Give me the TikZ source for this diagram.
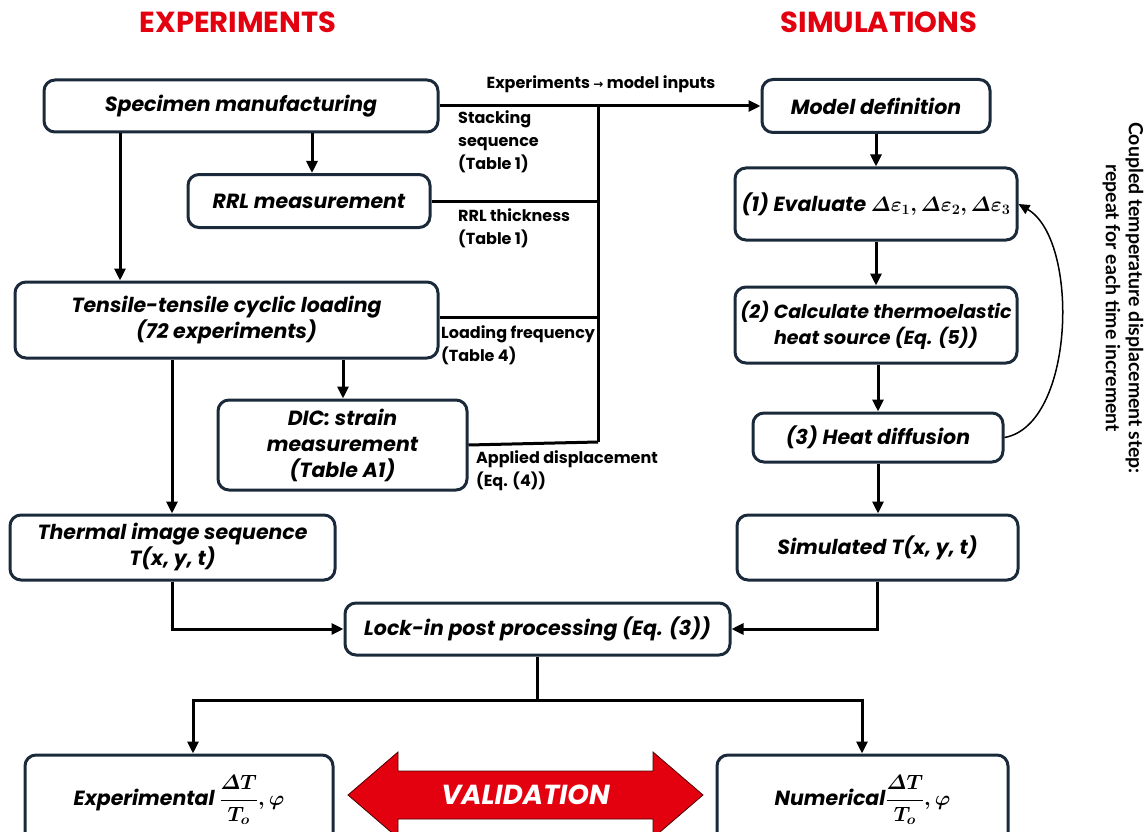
\documentclass[tikz,border=0pt]{standalone}
\usepackage{fontspec}
\usepackage{amsmath,bm}
\setmainfont{Poppins}
\newfontfamily\djv{DejaVu Sans}
\newfontfamily\lato{Lato}
\usetikzlibrary{arrows.meta}
\definecolor{boxc}{HTML}{1B2A3A}
\definecolor{redt}{HTML}{E3000F}
\tikzset{
  box/.style={draw=boxc, line width=3pt, rounded corners=11pt, fill=white, align=center,
    font=\fontsize{20.5}{26}\selectfont\bfseries\itshape\boldmath, inner sep=0pt},
  conn/.style={draw=black, line width=3pt},
  arr/.style={conn, -{Triangle[length=12pt,width=11pt]}},
  lbl/.style={font=\fontsize{16}{23}\selectfont\bfseries, align=left, inner sep=0pt, anchor=north west},
  title/.style={font=\fontsize{29}{34}\selectfont\bfseries, text=redt}
}
\begin{document}
\begin{tikzpicture}[x=1pt,y=-1pt]
\useasboundingbox (0,0) rectangle (1146,832);
% titles
\node[title] (te) at (238,22) {EXPERIMENTS};
\node[title] (ts) at (879,22) {SIMULATIONS};
% left column
\node[box, minimum width=394pt, minimum height=52pt] (sm) at (241,106) {Specimen manufacturing};
\node[box, minimum width=242pt, minimum height=53pt] (rrl) at (309,201) {RRL measurement};
\node[box, minimum width=423pt, minimum height=76pt] (tt) at (226.5,320) {Tensile-tensile cyclic loading\\(72 experiments)};
\node[box, minimum width=249pt, minimum height=90pt] (dic) at (342.5,445) {DIC: strain\\measurement\\(Table A1)};
\node[box, minimum width=325pt, minimum height=65pt] (th) at (172.5,547.5) {Thermal image sequence\\T(x, y, t)};
\node[box, minimum width=385pt, minimum height=52pt] (li) at (537.5,629) {Lock-in post processing (Eq. (3))};
\node[box, minimum width=308pt, minimum height=90pt] (ex) at (179,800) {Experimental $\dfrac{\varDelta T}{T_o}, \varphi$};
% right column
\node[box, minimum width=228pt, minimum height=53pt] (md) at (876,106) {Model definition};
\node[box, minimum width=282pt, minimum height=72pt] (ev) at (876,204) {(1) Evaluate $\varDelta\varepsilon_1, \varDelta\varepsilon_2, \varDelta\varepsilon_3$};
\node[box, minimum width=282pt, minimum height=76pt, font=\fontsize{19}{26}\selectfont\bfseries\itshape] (cs) at (876,325) {(2) Calculate thermoelastic\\heat source (Eq. (5))};
\node[box, minimum width=250pt, minimum height=49pt] (hd) at (878,437.5) {(3) Heat diffusion};
\node[box, minimum width=281pt, minimum height=65pt] (si) at (877.5,547.5) {Simulated T(x, y, t)};
\node[box, minimum width=291pt, minimum height=90pt] (nu) at (862.5,800) {Numerical$\dfrac{\varDelta T}{T_o}, \varphi$};
% validation arrow
\draw[fill=redt, draw=black!70!red, line width=0.8pt]
  (348,795) -- (398,752) -- (398,771) -- (653,771) -- (653,752) -- (703,795)
  -- (653,838) -- (653,819) -- (398,819) -- (398,838) -- cycle;
\node[font=\fontsize{27.5}{32}\selectfont\bfseries\itshape, text=white] (va) at (525.5,795) {VALIDATION};
% left connectors
\draw[arr] (sm.south -| 312,0) -- (rrl.north -| 312,0);
\draw[arr] (sm.south -| 120,0) -- (tt.north -| 120,0);
\draw[arr] (tt.south -| 343,0) -- (dic.north -| 343,0);
\draw[arr] (tt.south -| 172,0) -- (th.north -| 172,0);
\draw[arr] (th.south) |- (li.west);
\draw[arr] (si.south) |- (li.east);
% bottom split
\coordinate (split) at (537.5,700);
\draw[conn] (li.south) -- (split);
\draw[arr] (split) -| (ex.north -| 193,0);
\draw[arr] (split) -| (nu.north -| 862,0);
% bus
\coordinate (bt) at (598,106);
\coordinate (bb) at (598,442);
\draw[arr] (sm.east) -- (md.west);
\draw[conn] (bt) -- (bb);
\draw[conn] (rrl.east) -- (rrl.east -| bt);
\draw[conn] (tt.east |- 0,317) -- (598,317);
\draw[conn] (dic.east) -- (bb);
\node[font=\fontsize{16}{18}\selectfont\bfseries, anchor=south] (lab0) at (601,96) {Experiments {\djv\fontsize{12}{12}\selectfont →} model inputs};
\node[lbl] (lab1) at (458,110) {Stacking\\sequence\\(Table 1)};
\node[lbl] (lab2) at (458,208) {RRL thickness\\(Table 1)};
\node[lbl] (lab3) at (441,325) {Loading frequency\\(Table 4)};
\node[lbl] (lab4) at (476,450) {Applied displacement\\(Eq. (4))};
% right connectors
\draw[arr] (md.south) -- (ev.north);
\draw[arr] (ev.south) -- (ev.south |- cs.north);
\draw[arr] (hd.north |- cs.south) -- (hd.north);
\draw[arr] (hd.south) -- (hd.south |- si.north);
\draw[line width=1.5pt, -{Triangle[length=11pt,width=10pt]}] (hd.east) .. controls (1075,425) and (1080,240) .. (ev.east);
% side note
\node[rotate=-90, font=\lato\fontsize{19.5}{23}\selectfont\bfseries, align=center] (note) at (1123,298) {Coupled temperature displacement step:\\repeat for each time increment};
\end{tikzpicture}
\end{document}
